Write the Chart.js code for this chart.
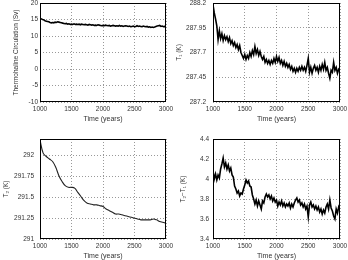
<!DOCTYPE html>
<html lang="en">
<head>
<meta charset="UTF-8">
<title>Ocean box model</title>
<script src="https://cdn.jsdelivr.net/npm/chart.js"></script>
<style>
  body { margin: 0; background: #fff; }
  #wrap { position: relative; width: 348px; height: 260px; }
  #wrap canvas { position: absolute; }
</style>
</head>
<body>
<div id="wrap">
  <canvas id="thc" width="174" height="130" style="left:0;top:0"></canvas>
  <canvas id="t1" width="174" height="130" style="left:174px;top:0"></canvas>
  <canvas id="t2" width="174" height="130" style="left:0;top:130px"></canvas>
  <canvas id="dt" width="174" height="130" style="left:174px;top:130px"></canvas>
</div>
<script>
// model years, 20-year sampling
const years = [1000,1020,1040,1060,1080,1100,1120,1140,1160,1180,
  1200,1220,1240,1260,1280,1300,1320,1340,1360,1380,
  1400,1420,1440,1460,1480,1500,1520,1540,1560,1580,
  1600,1620,1640,1660,1680,1700,1720,1740,1760,1780,
  1800,1820,1840,1860,1880,1900,1920,1940,1960,1980,
  2000,2020,2040,2060,2080,2100,2120,2140,2160,2180,
  2200,2220,2240,2260,2280,2300,2320,2340,2360,2380,
  2400,2420,2440,2460,2480,2500,2520,2540,2560,2580,
  2600,2620,2640,2660,2680,2700,2720,2740,2760,2780,
  2800,2820,2840,2860,2880,2900,2920,2940,2960,2980,3000];

// thermohaline circulation (Sv)
const thc = [15.4,15.2,15.0,14.9,14.6,14.5,14.4,14.3,14.1,14.0,
  14.1,14.0,14.2,14.1,14.3,14.2,14.1,14.0,13.9,13.8,
  13.7,13.8,13.6,13.7,13.5,13.6,13.5,13.7,13.5,13.6,
  13.5,13.6,13.4,13.6,13.5,13.4,13.5,13.4,13.3,13.5,
  13.4,13.3,13.4,13.2,13.3,13.2,13.4,13.3,13.2,13.1,
  13.2,13.1,13.3,13.2,13.1,13.2,13.0,13.1,13.2,13.1,
  13.0,13.1,13.0,13.2,13.0,13.1,12.9,13.0,13.1,13.0,
  12.9,13.0,12.8,12.9,13.0,12.8,12.9,13.1,12.9,13.0,
  12.9,12.8,13.0,12.9,12.8,12.9,12.7,12.8,12.6,12.7,
  12.6,12.7,12.9,13.0,13.1,13.2,12.9,13.0,12.8,12.9,12.8];

// T1 (K)
const t1 = [288.18,288.10,288.04,287.97,287.83,287.92,287.84,287.89,287.82,287.87,
  287.83,287.86,287.81,287.85,287.79,287.82,287.77,287.80,287.75,287.78,
  287.73,287.77,287.70,287.67,287.64,287.68,287.63,287.67,287.64,287.70,
  287.66,287.72,287.68,287.76,287.69,287.73,287.67,287.71,287.66,287.63,
  287.66,287.60,287.63,287.59,287.62,287.58,287.62,287.59,287.64,287.60,
  287.66,287.61,287.65,287.59,287.62,287.57,287.61,287.56,287.59,287.55,
  287.58,287.53,287.56,287.51,287.54,287.50,287.54,287.51,287.55,287.52,
  287.56,287.52,287.55,287.51,287.57,287.64,287.50,287.55,287.49,287.54,
  287.57,287.52,287.55,287.50,287.56,287.52,287.58,287.53,287.60,287.52,
  287.55,287.49,287.44,287.52,287.50,287.60,287.52,287.55,287.49,287.53,287.51];

// T2 - T1 (K)
const dT = [4.08,4.00,4.05,3.99,4.04,4.01,4.10,4.15,4.21,4.12,
  4.16,4.10,4.14,4.08,4.11,4.04,4.02,3.93,3.90,3.86,
  3.88,3.83,3.86,3.85,3.90,3.94,3.99,3.96,3.98,3.93,
  3.92,3.84,3.80,3.75,3.79,3.73,3.78,3.74,3.70,3.78,
  3.76,3.82,3.85,3.82,3.84,3.80,3.83,3.78,3.81,3.77,
  3.79,3.73,3.77,3.74,3.78,3.73,3.76,3.72,3.75,3.73,
  3.76,3.71,3.75,3.72,3.76,3.79,3.81,3.77,3.79,3.74,
  3.76,3.72,3.75,3.70,3.73,3.62,3.74,3.77,3.72,3.74,
  3.70,3.73,3.69,3.72,3.67,3.70,3.65,3.69,3.66,3.72,
  3.75,3.70,3.79,3.71,3.68,3.63,3.60,3.70,3.66,3.72,3.69];

// T2 is smooth, 50-year sampling is enough
const years50 = [1000,1050,1100,1150,1200,1250,1300,1350,1400,1450,
  1500,1550,1600,1650,1700,1750,1800,1850,1900,1950,
  2000,2050,2100,2150,2200,2250,2300,2350,2400,2450,
  2500,2550,2600,2650,2700,2750,2800,2850,2900,2950,3000];
const t2 = [292.19,292.03,291.99,291.96,291.93,291.86,291.76,291.69,291.64,291.62,
  291.62,291.61,291.56,291.51,291.46,291.43,291.42,291.41,291.41,291.40,
  291.39,291.36,291.34,291.32,291.30,291.30,291.29,291.28,291.27,291.26,
  291.25,291.24,291.23,291.23,291.23,291.23,291.24,291.23,291.21,291.20,291.19];

const xTicks = [1000, 1500, 2000, 2500, 3000];
const thcTicks = [-10, -5, 0, 5, 10, 15, 20];
const t1Ticks = [287.2, 287.45, 287.7, 287.95, 288.2];
const t2Ticks = [291, 291.25, 291.5, 291.75, 292];
const dTTicks = [3.4, 3.6, 3.8, 4, 4.2, 4.4];

const tickFont = { family: 'Liberation Sans', size: 6.5 };
const titleFont = { family: 'Liberation Sans', size: 7, lineHeight: 1 };
const gridColor = 'rgba(0,0,0,0.4)';
const textColor = '#333';

// black box round the plot area, like the matplotlib axes
const frame = {
  id: 'frame',
  afterDraw(chart) {
    const a = chart.chartArea;
    const ctx = chart.ctx;
    ctx.save();
    ctx.strokeStyle = '#000';
    ctx.lineWidth = 1;
    ctx.strokeRect(a.left + 0.5, a.top + 0.5, a.right - a.left - 1, a.bottom - a.top - 1);
    ctx.restore();
  }
};

function makePanel(id, xs, ys, o) {
  new Chart(document.getElementById(id), {
    type: 'line',
    data: {
      datasets: [{
        data: xs.map((x, i) => ({ x: x, y: ys[i] })),
        borderColor: o.color || '#000',
        borderWidth: o.lw,
        pointRadius: 0,
        tension: o.tension || 0,
        fill: false
      }]
    },
    options: {
      responsive: false,
      animation: false,
      devicePixelRatio: 1,
      layout: { padding: { left: 0, right: 8, top: o.top, bottom: 0 } },
      plugins: { legend: { display: false }, tooltip: { enabled: false } },
      scales: {
        x: {
          type: 'linear', min: 1000, max: 3000,
          afterBuildTicks: ax => { ax.ticks = xTicks.map(v => ({ value: v })); },
          afterFit: ax => { ax.height = o.xh; ax.paddingLeft = 0; ax.paddingRight = 0; },
          grid: { color: gridColor, drawTicks: false },
          border: { display: false, dash: [1, 2] },
          ticks: { font: tickFont, color: textColor, padding: 3, maxRotation: 0, autoSkip: false,
                   callback: v => String(v) },
          title: { display: true, text: 'Time (years)', font: titleFont, color: textColor,
                   padding: { top: 0, bottom: o.xtPad } }
        },
        y: {
          min: o.yTicks[0], max: o.yMax,
          afterBuildTicks: ax => { ax.ticks = o.yTicks.map(v => ({ value: v })); },
          afterFit: ax => { ax.width = o.yw; ax.paddingTop = 0; ax.paddingBottom = 0; },
          grid: { color: gridColor, drawTicks: false },
          border: { display: false, dash: [1, 2] },
          ticks: { font: tickFont, color: textColor, padding: o.ypad, autoSkip: false,
                   callback: v => String(v) },
          title: { display: true, text: o.yTitle, font: { family: 'Liberation Sans', size: 6.5, lineHeight: 1 },
                   color: textColor, padding: { top: o.ytPad, bottom: 0 } }
        }
      }
    },
    plugins: [frame]
  });
}

makePanel('thc', years, thc, { lw: 1.6, top: 3, xh: 28, yw: 40, ypad: 2, xtPad: 7.5,
  yTicks: thcTicks, yMax: 20, yTitle: 'Thermohaline Circulation (Sv)', ytPad: 13 });
makePanel('t1', years, t1, { lw: 1.6, top: 3, xh: 28, yw: 39, ypad: 7, xtPad: 7.5,
  yTicks: t1Ticks, yMax: 288.2, yTitle: 'T\u2081 (K)', ytPad: 2 });
makePanel('t2', years50, t2, { lw: 1.1, color: '#222', tension: 0.4, top: 9, xh: 21, yw: 40, ypad: 6, xtPad: 0,
  yTicks: t2Ticks, yMax: 292.2, yTitle: 'T\u2082 (K)', ytPad: 3 });
makePanel('dt', years, dT, { lw: 1.6, top: 9, xh: 21, yw: 39, ypad: 4, xtPad: 0,
  yTicks: dTTicks, yMax: 4.4, yTitle: 'T\u2082\u2212T\u2081 (K)', ytPad: 6 });
</script>
</body>
</html>
